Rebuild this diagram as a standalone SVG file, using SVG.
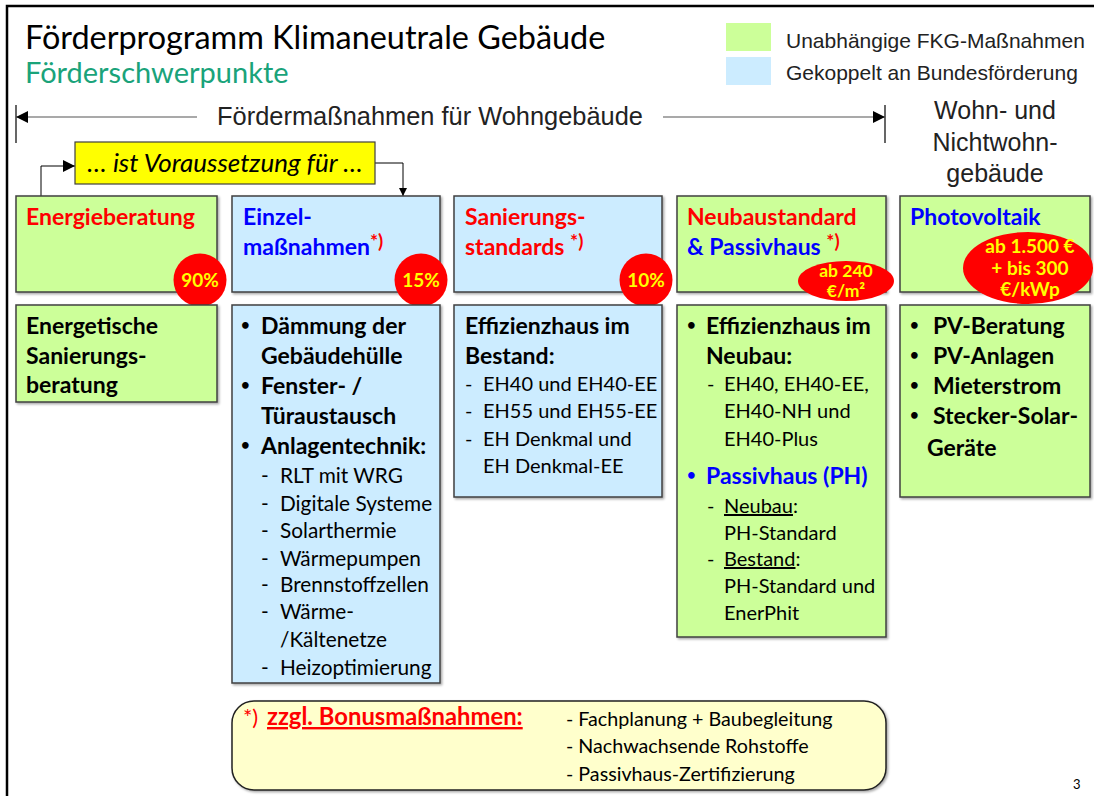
<svg xmlns="http://www.w3.org/2000/svg" width="1094" height="796" viewBox="0 0 1094 796">
<defs>
<marker id="ah" viewBox="0 0 10 10" refX="10" refY="5" markerWidth="8" markerHeight="8" markerUnits="userSpaceOnUse" orient="auto"><path d="M0,0 L10,5 L0,10 z" fill="#000"/></marker>
<marker id="ahb" viewBox="0 0 10 10" refX="10" refY="5" markerWidth="12" markerHeight="12" markerUnits="userSpaceOnUse" orient="auto"><path d="M0,0 L10,5 L0,10 z" fill="#000"/></marker>
<filter id="sh" x="-5%" y="-5%" width="115%" height="115%"><feDropShadow dx="1.5" dy="1.5" stdDeviation="0.8" flood-color="#000" flood-opacity="0.35"/></filter>
</defs>
<style>
.c{font-family:Lato,"Noto Sans",sans-serif}
.a{font-family:"Liberation Sans",Arial,sans-serif;fill:#222}
.b{font-weight:bold}
.g{fill:#CCFF99;stroke:#404040;stroke-width:1.5}
.bl{fill:#CCECFF;stroke:#404040;stroke-width:1.5}
.red{fill:#FF0000}
.blue{fill:#0000FF}
.hd{font-size:23px;font-weight:bold}
.it{font-size:23px;font-weight:bold;fill:#000}
.bu{font-size:15px;font-weight:bold}
.sub{font-size:20px;fill:#000}
.sub2{font-size:20.8px;fill:#000}
.bad{font-size:19px;font-weight:bold;fill:#FFFF00}
.ln{stroke:#000;stroke-width:1;fill:none}
</style>
<rect width="1094" height="796" fill="#fff"/>
<path d="M7,796 L7,6 L1094,6" fill="none" stroke="#000" stroke-width="2.5"/>

<g id="title">
<text class="c" x="25" y="49" font-size="32.4" fill="#000">Förderprogramm Klimaneutrale Gebäude</text>
<text class="c" x="25" y="83" font-size="29" fill="#1AA37A">Förderschwerpunkte</text>
</g>

<g id="legend">
<rect x="726" y="23" width="45" height="28" fill="#CCFF99"/>
<rect x="726" y="57" width="45" height="28" fill="#CCECFF"/>
<text class="a" x="786" y="48" font-size="21">Unabhängige FKG-Maßnahmen</text>
<text class="a" x="786" y="80" font-size="21">Gekoppelt an Bundesförderung</text>
</g>

<g id="scope">
<line x1="16" y1="105" x2="16" y2="143" stroke="#000" stroke-width="1.2"/>
<line x1="885" y1="105" x2="885" y2="143" stroke="#000" stroke-width="1.2"/>
<text class="a" x="430" y="125" font-size="25.4" text-anchor="middle">Fördermaßnahmen für Wohngebäude</text>
<text class="a" x="995" y="119" font-size="25" text-anchor="middle">Wohn- und</text>
<text class="a" x="995" y="151" font-size="25" text-anchor="middle">Nichtwohn-</text>
<text class="a" x="995" y="182" font-size="25" text-anchor="middle">gebäude</text>
</g>

<g id="connectors">
<line x1="197" y1="117" x2="16" y2="117" stroke="#555" stroke-width="1.2" marker-end="url(#ahb)"/>
<line x1="663" y1="117" x2="885" y2="117" stroke="#555" stroke-width="1.2" marker-end="url(#ahb)"/>
<path class="ln" d="M41,196 L41,166 L75,166" marker-end="url(#ahb)"/>
<path class="ln" d="M375,163 L403,163 L403,196" marker-end="url(#ah)"/>
</g>

<g id="voraussetzung">
<rect x="75" y="142" width="300" height="42" fill="#FFFF00" stroke="#404040" stroke-width="1.2"/>
<text class="c" x="225" y="172" font-size="26" font-style="italic" text-anchor="middle" fill="#000">… ist Voraussetzung für …</text>
</g>

<g id="energieberatung">
<rect class="g" x="16" y="196" width="201" height="96" filter="url(#sh)"/>
<text class="c hd red" x="26" y="225">Energieberatung</text>
<circle cx="200" cy="280" r="26.5" fill="#FF0000"/>
<text class="c bad" x="200" y="287" text-anchor="middle">90%</text>
</g>

<g id="einzelmassnahmen">
<rect class="bl" x="232" y="196" width="208" height="96" filter="url(#sh)"/>
<text class="c hd blue" x="243" y="225">Einzel-</text>
<text class="c hd" x="243" y="255"><tspan class="blue">maßnahmen</tspan><tspan class="red" font-size="19" dy="-7">*)</tspan></text>
<circle cx="421" cy="280" r="26.5" fill="#FF0000"/>
<text class="c bad" x="421" y="287" text-anchor="middle">15%</text>
</g>

<g id="sanierungsstandards">
<rect class="bl" x="454" y="196" width="208" height="96" filter="url(#sh)"/>
<text class="c hd red" x="465" y="225">Sanierungs-</text>
<text class="c hd red" x="465" y="255">standards <tspan font-size="19" dy="-7">*)</tspan></text>
<circle cx="646" cy="280" r="26.5" fill="#FF0000"/>
<text class="c bad" x="646" y="287" text-anchor="middle">10%</text>
</g>

<g id="neubaustandard">
<rect class="g" x="677" y="196" width="209" height="96" filter="url(#sh)"/>
<text class="c hd red" x="687" y="225">Neubaustandard</text>
<text class="c hd" x="687" y="255"><tspan class="blue">&amp; Passivhaus </tspan><tspan class="red" font-size="19" dy="-7">*)</tspan></text>
<ellipse cx="846" cy="281" rx="48" ry="20" fill="#FF0000"/>
<text class="c b" x="846" y="277" font-size="17.5" fill="#FFFF00" text-anchor="middle">ab 240</text>
<text class="c b" x="846" y="297" font-size="17.5" fill="#FFFF00" text-anchor="middle">€/m²</text>
</g>

<g id="photovoltaik">
<rect class="g" x="900" y="196" width="190" height="96" filter="url(#sh)"/>
<text class="c hd blue" x="910" y="225">Photovoltaik</text>
<ellipse cx="1028" cy="268" rx="65" ry="36" fill="#FF0000"/>
<text class="c bad" x="1030" y="253" text-anchor="middle">ab 1.500 €</text>
<text class="c bad" x="1030" y="275" text-anchor="middle">+ bis 300</text>
<text class="c bad" x="1030" y="296" text-anchor="middle">€/kWp</text>
</g>

<g id="sanierungsberatung">
<rect class="g" x="16" y="305" width="201" height="97" filter="url(#sh)"/>
<text class="c it" x="26" y="334">Energetische</text>
<text class="c it" x="26" y="364">Sanierungs-</text>
<text class="c it" x="26" y="393">beratung</text>
</g>

<g id="einzel-liste">
<rect class="bl" x="232" y="305" width="208" height="378" filter="url(#sh)"/>
<text class="c bu" x="241" y="330">•</text><text class="c it" x="261" y="334">Dämmung der</text>
<text class="c it" x="261" y="364">Gebäudehülle</text>
<text class="c bu" x="241" y="390">•</text><text class="c it" x="261" y="394">Fenster- /</text>
<text class="c it" x="261" y="424">Türaustausch</text>
<text class="c bu" x="241" y="450">•</text><text class="c it" x="261" y="454">Anlagentechnik:</text>
<g class="c sub2">
<text x="261" y="483">-</text><text x="280" y="483">RLT mit WRG</text>
<text x="261" y="511">-</text><text x="280" y="511">Digitale Systeme</text>
<text x="261" y="538">-</text><text x="280" y="538">Solarthermie</text>
<text x="261" y="566">-</text><text x="280" y="566">Wärmepumpen</text>
<text x="261" y="592">-</text><text x="280" y="592">Brennstoffzellen</text>
<text x="261" y="619">-</text><text x="280" y="619">Wärme-</text>
<text x="280" y="647">/Kältenetze</text>
<text x="261" y="675">-</text><text x="280" y="675">Heizoptimierung</text>
</g>
</g>

<g id="bestand-liste">
<rect class="bl" x="454" y="305" width="208" height="192" filter="url(#sh)"/>
<text class="c it" x="465" y="334">Effizienzhaus im</text>
<text class="c it" x="465" y="364">Bestand:</text>
<g class="c sub">
<text x="465" y="391">-</text><text x="483" y="391">EH40 und EH40-EE</text>
<text x="465" y="418">-</text><text x="483" y="418">EH55 und EH55-EE</text>
<text x="465" y="446">-</text><text x="483" y="446">EH Denkmal und</text>
<text x="483" y="473">EH Denkmal-EE</text>
</g>
</g>

<g id="neubau-liste">
<rect class="g" x="677" y="305" width="209" height="332" filter="url(#sh)"/>
<text class="c bu" x="687" y="330">•</text><text class="c it" x="706" y="334">Effizienzhaus im</text>
<text class="c it" x="706" y="364">Neubau:</text>
<g class="c sub">
<text x="707" y="391">-</text><text x="724" y="391">EH40, EH40-EE,</text>
<text x="724" y="418">EH40-NH und</text>
<text x="724" y="446">EH40-Plus</text>
</g>
<text class="c bu blue" x="687" y="480">•</text><text class="c hd blue" x="706" y="484">Passivhaus (PH)</text>
<g class="c sub">
<text x="707" y="513">-</text><text x="724" y="513"><tspan text-decoration="underline">Neubau</tspan>:</text>
<text x="724" y="540">PH-Standard</text>
<text x="707" y="566">-</text><text x="724" y="566"><tspan text-decoration="underline">Bestand</tspan>:</text>
<text x="724" y="593">PH-Standard und</text>
<text x="724" y="620">EnerPhit</text>
</g>
</g>

<g id="pv-liste">
<rect class="g" x="900" y="305" width="190" height="192" filter="url(#sh)"/>
<text class="c bu" x="910" y="330">•</text><text class="c it" x="933" y="334">PV-Beratung</text>
<text class="c bu" x="910" y="360">•</text><text class="c it" x="933" y="364">PV-Anlagen</text>
<text class="c bu" x="910" y="390">•</text><text class="c it" x="933" y="394">Mieterstrom</text>
<text class="c bu" x="910" y="420">•</text><text class="c it" x="933" y="424">Stecker-Solar-</text>
<text class="c it" x="927" y="456">Geräte</text>
</g>

<g id="bonus">
<rect x="232" y="701" width="654" height="89" rx="22" ry="22" fill="#FFFFCC" stroke="#222" stroke-width="1.5" filter="url(#sh)"/>
<text class="c" x="243" y="725" font-size="22" fill="#FF0000">*)</text>
<text class="c b" x="267" y="725" font-size="23.8" fill="#FF0000" text-decoration="underline">zzgl. Bonusmaßnahmen:</text>
<g class="c" font-size="19.7" fill="#000">
<text x="566" y="726">- Fachplanung + Baubegleitung</text>
<text x="566" y="753">- Nachwachsende Rohstoffe</text>
<text x="566" y="781">- Passivhaus-Zertifizierung</text>
</g>
</g>

<text class="c" x="1073" y="789" font-size="13" fill="#000">3</text>
</svg>
